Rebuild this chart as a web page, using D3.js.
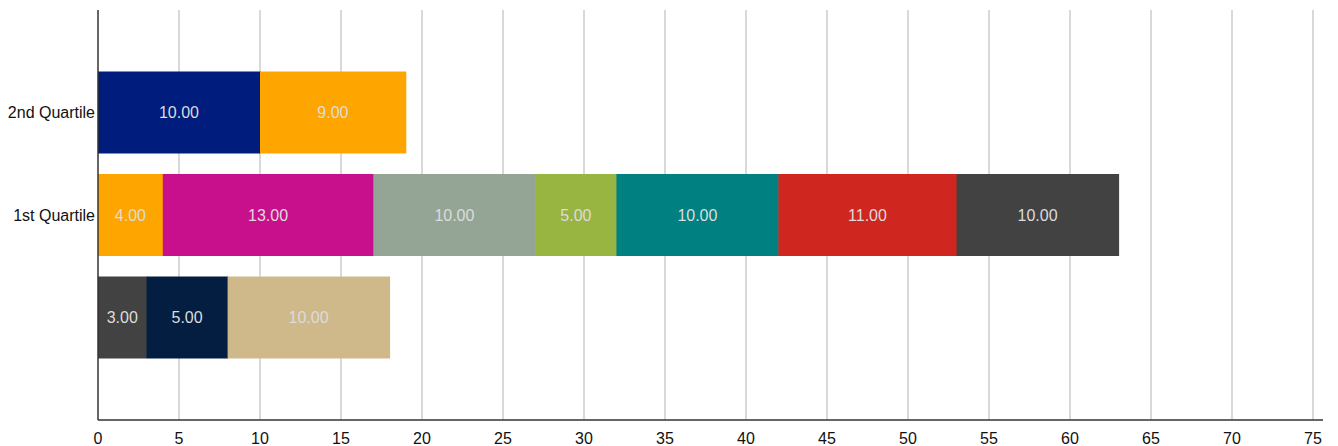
<!DOCTYPE html>
<html>
<head>
<meta charset="utf-8">
<script src="https://d3js.org/d3.v7.min.js"></script>
<style>
  body { margin: 0; background: #fff; }
  text { font-family: "Liberation Sans", Arial, sans-serif; }
</style>
</head>
<body>
<svg id="chart"></svg>
<script>
// data
const categories = ["2nd Quartile", "1st Quartile", ""];
const rowValues = [
  [10, 9],
  [4, 13, 10, 5, 10, 11, 10],
  [3, 5, 10]
];
const rowColors = [
  ["#001c7c", "#ffa500"],
  ["#ffa500", "#c9108c", "#94a596", "#98b441", "#008080", "#d02620", "#424242"],
  ["#424242", "#041e42", "#cfb98a"]
];
const xTicks = d3.range(0, 80, 5);

const width = 1338, height = 446;
const margin = {top: 10, right: 15, bottom: 26, left: 98};

const svg = d3.select("#chart").attr("width", width).attr("height", height);

const x = d3.scaleLinear().domain([0, 75]).range([margin.left, 1313]);
const y = d3.scalePoint().domain(d3.range(categories.length))
  .range([margin.top, height - margin.bottom]).padding(1);
const barH = y.step() * 0.8;

// gridlines
svg.append("g").selectAll("line")
  .data(xTicks.filter(d => d > 0))
  .join("line")
  .attr("x1", d => x(d)).attr("x2", d => x(d))
  .attr("y1", margin.top).attr("y2", height - margin.bottom)
  .attr("stroke", "#cccccc").attr("stroke-width", 1.5);

// bars
categories.forEach((cat, i) => {
  let acc = 0;
  const segs = rowValues[i].map((v, j) => {
    const s = {x0: acc, x1: acc + v, v: v, c: rowColors[i][j]};
    acc += v;
    return s;
  });
  const g = svg.append("g");
  g.selectAll("rect").data(segs).join("rect")
    .attr("x", d => x(d.x0))
    .attr("width", d => x(d.x1) - x(d.x0) + 0.5)
    .attr("y", y(i) - barH / 2)
    .attr("height", barH)
    .attr("fill", d => d.c);
  g.selectAll("text").data(segs).join("text")
    .attr("x", d => (x(d.x0) + x(d.x1)) / 2)
    .attr("y", y(i))
    .attr("dy", "0.35em")
    .attr("text-anchor", "middle")
    .attr("fill", "#dcdcdc")
    .attr("font-size", 16)
    .text(d => d.v.toFixed(2));
  svg.append("text")
    .attr("x", margin.left - 3)
    .attr("y", y(i))
    .attr("dy", "0.35em")
    .attr("text-anchor", "end")
    .attr("font-size", 16)
    .attr("fill", "#111")
    .text(cat);
});

// axes
svg.append("line")
  .attr("x1", margin.left).attr("x2", margin.left)
  .attr("y1", margin.top).attr("y2", height - margin.bottom)
  .attr("stroke", "#333").attr("stroke-width", 1.5);
svg.append("line")
  .attr("x1", margin.left).attr("x2", 1323)
  .attr("y1", height - margin.bottom).attr("y2", height - margin.bottom)
  .attr("stroke", "#333").attr("stroke-width", 1.5);

svg.append("g").selectAll("text")
  .data(xTicks)
  .join("text")
  .attr("x", d => x(d))
  .attr("y", 444)
  .attr("text-anchor", "middle")
  .attr("font-size", 16)
  .attr("fill", "#111")
  .text(d => d);
</script>
</body>
</html>
